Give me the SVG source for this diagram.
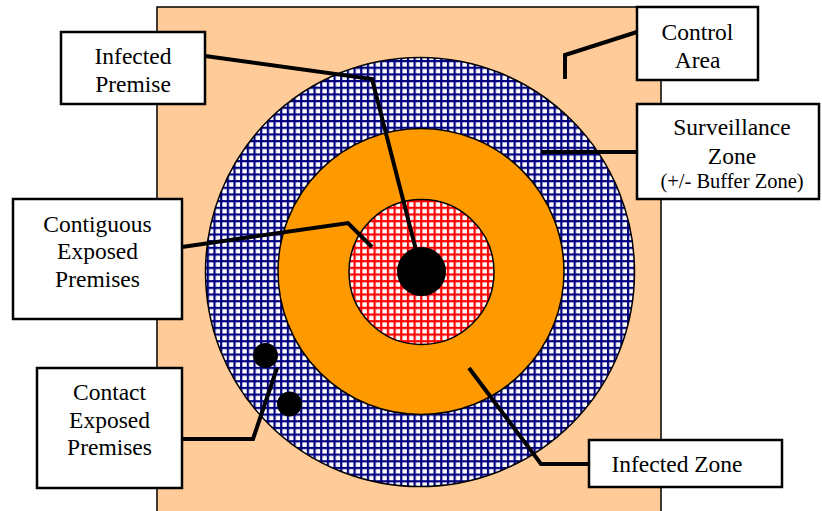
<svg xmlns="http://www.w3.org/2000/svg" width="822" height="511" viewBox="0 0 822 511">
<style>
.box{fill:#fff;stroke:#000;stroke-width:2.5}
.t{font-family:'Liberation Serif','DejaVu Serif','Times New Roman',serif;font-size:23.5px;fill:#000;text-anchor:middle}
.s{font-size:20.5px}
.con{fill:none;stroke:#000;stroke-width:4;stroke-linejoin:miter}
.ring{stroke:#000;stroke-width:1.5}
.dot{fill:#000}
</style>
<defs>
<pattern id="blueGrid" patternUnits="userSpaceOnUse" width="6.67" height="6.67">
<rect width="6.67" height="6.67" fill="#fff"/>
<rect x="0" y="0" width="2.2" height="6.67" fill="#000080"/>
<rect x="0" y="0" width="6.67" height="2.2" fill="#000080"/>
</pattern>
<pattern id="redGrid" patternUnits="userSpaceOnUse" width="6.67" height="6.67">
<rect width="6.67" height="6.67" fill="#fff"/>
<rect x="0" y="0" width="2.2" height="6.67" fill="#ff0000"/>
<rect x="0" y="0" width="6.67" height="2.2" fill="#ff0000"/>
</pattern>
</defs>
<g id="control-area-bg">
<rect x="157" y="7" width="504" height="520" fill="#ffcc99" stroke="#000" stroke-width="1.5"/>
</g>
<g id="surveillance-zone">
<circle cx="420" cy="272" r="214.5" fill="url(#blueGrid)" class="ring"/>
</g>
<g id="infected-zone">
<circle cx="421" cy="271.5" r="143" fill="#ff9900" class="ring"/>
</g>
<g id="contiguous-zone">
<circle cx="421.5" cy="272" r="72.5" fill="url(#redGrid)" class="ring"/>
</g>
<g id="infected-premise-dot">
<circle cx="421.5" cy="271.5" r="24.5" class="dot"/>
</g>
<g id="contact-dots">
<circle cx="265.5" cy="355.5" r="12.5" class="dot"/>
<circle cx="289.5" cy="404" r="12.5" class="dot"/>
</g>
<g id="connectors">
<polyline class="con" points="205,56 372,79 416,250"/>
<polyline class="con" points="637,32 565,55 565,79"/>
<polyline class="con" points="637,152 541,152"/>
<polyline class="con" points="182,247 348,223 372,247"/>
<polyline class="con" points="182,439 253,439 277,368"/>
<polyline class="con" points="589,464 541,464 469,368"/>
</g>
<g font-family="Liberation Serif, DejaVu Serif, serif">
<g id="label-infected-premise">
<rect class="box" x="61" y="32" width="144" height="72"/>
<text class="t" x="133" y="64">Infected</text>
<text class="t" x="133" y="92">Premise</text>
</g>
<g id="label-control-area">
<rect class="box" x="637" y="7" width="121" height="73"/>
<text class="t" x="697.5" y="40">Control</text>
<text class="t" x="697.5" y="68">Area</text>
</g>
<g id="label-surveillance-zone">
<rect class="box" x="637" y="104" width="182" height="95"/>
<text class="t" x="732" y="135">Surveillance</text>
<text class="t" x="732" y="164">Zone</text>
<text class="t s" x="732" y="188">(+/- Buffer Zone)</text>
</g>
<g id="label-contiguous">
<rect class="box" x="13" y="199" width="169" height="120"/>
<text class="t" x="97.5" y="232">Contiguous</text>
<text class="t" x="97.5" y="259">Exposed</text>
<text class="t" x="97.5" y="287">Premises</text>
</g>
<g id="label-contact">
<rect class="box" x="37" y="368" width="145" height="120"/>
<text class="t" x="109.5" y="400">Contact</text>
<text class="t" x="109.5" y="428">Exposed</text>
<text class="t" x="109.5" y="455">Premises</text>
</g>
<g id="label-infected-zone">
<rect class="box" x="589" y="440" width="193" height="47"/>
<text class="t" x="677" y="472">Infected Zone</text>
</g>
</g>
</svg>
